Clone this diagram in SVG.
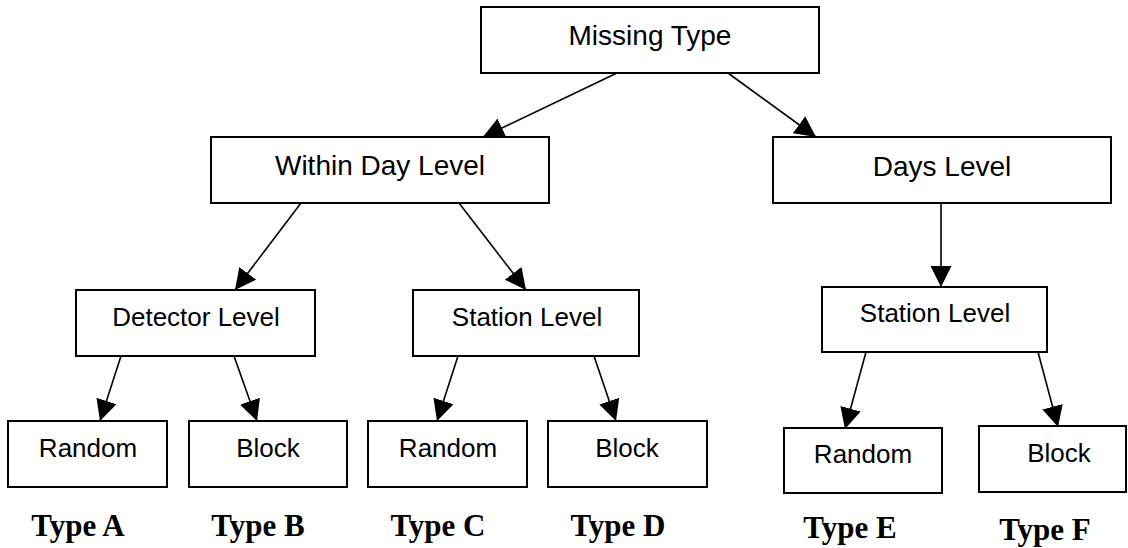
<svg xmlns="http://www.w3.org/2000/svg" width="1128" height="548" viewBox="0 0 1128 548">
<style>
.box{fill:#fff;stroke:#000;stroke-width:2}
.t1{font-family:"Liberation Sans",Arial,sans-serif;font-size:28px;fill:#000;text-anchor:middle}
.t2{font-family:"Liberation Sans",Arial,sans-serif;font-size:26px;fill:#000;text-anchor:middle}
.ty{font-family:"Liberation Serif","Times New Roman",serif;font-size:31px;font-weight:bold;fill:#000;text-anchor:middle}
.edge{stroke:#000;stroke-width:1.6;fill:none;marker-end:url(#ah)}
</style>
<defs>
<marker id="ah" markerUnits="userSpaceOnUse" markerWidth="22" markerHeight="22" refX="21" refY="10.5" orient="auto">
<path d="M0,0 L21,10.5 L0,21 Z" fill="#000"/>
</marker>
</defs>
<rect width="1128" height="548" fill="#fff"/>
<g id="connectors">
<line class="edge" x1="617" y1="73" x2="483" y2="137"/>
<line class="edge" x1="728" y1="73" x2="816" y2="137"/>
<line class="edge" x1="301" y1="203" x2="235" y2="290"/>
<line class="edge" x1="459" y1="203" x2="526" y2="290"/>
<line class="edge" x1="941" y1="203" x2="941" y2="287"/>
<line class="edge" x1="121" y1="356" x2="100" y2="421"/>
<line class="edge" x1="234" y1="356" x2="257" y2="421"/>
<line class="edge" x1="458" y1="356" x2="437" y2="421"/>
<line class="edge" x1="594" y1="356" x2="616" y2="421"/>
<line class="edge" x1="866" y1="352" x2="845" y2="429"/>
<line class="edge" x1="1038" y1="352" x2="1058" y2="427"/>
</g>
<g id="missing-type"><rect class="box" x="481" y="7" width="338" height="66"/><text class="t1" x="650" y="45">Missing Type</text></g>
<g id="within-day"><rect class="box" x="211" y="137" width="338" height="66"/><text class="t1" x="380" y="175">Within Day Level</text></g>
<g id="days-level"><rect class="box" x="773" y="137" width="338" height="66"/><text class="t1" x="942" y="176">Days Level</text></g>
<g id="detector-level"><rect class="box" x="76" y="290" width="239" height="66"/><text class="t2" x="196" y="326">Detector Level</text></g>
<g id="station-level-1"><rect class="box" x="413" y="290" width="226" height="66"/><text class="t2" x="527" y="326">Station Level</text></g>
<g id="station-level-2"><rect class="box" x="822" y="287" width="225" height="65"/><text class="t2" x="935" y="322">Station Level</text></g>
<g id="random-a"><rect class="box" x="8" y="421" width="159" height="66"/><text class="t2" x="88" y="457">Random</text></g>
<g id="block-b"><rect class="box" x="189" y="421" width="158" height="66"/><text class="t2" x="268" y="457">Block</text></g>
<g id="random-c"><rect class="box" x="368" y="421" width="159" height="66"/><text class="t2" x="448" y="457">Random</text></g>
<g id="block-d"><rect class="box" x="548" y="421" width="159" height="66"/><text class="t2" x="627" y="457">Block</text></g>
<g id="random-e"><rect class="box" x="784" y="428" width="158" height="65"/><text class="t2" x="863" y="463">Random</text></g>
<g id="block-f"><rect class="box" x="979" y="426" width="147" height="66"/><text class="t2" x="1059" y="462">Block</text></g>
<g id="type-labels">
<text class="ty" x="78" y="536">Type A</text>
<text class="ty" x="258" y="536">Type B</text>
<text class="ty" x="438" y="536">Type C</text>
<text class="ty" x="618" y="536">Type D</text>
<text class="ty" x="850" y="538">Type E</text>
<text class="ty" x="1045" y="540">Type F</text>
</g>
</svg>
